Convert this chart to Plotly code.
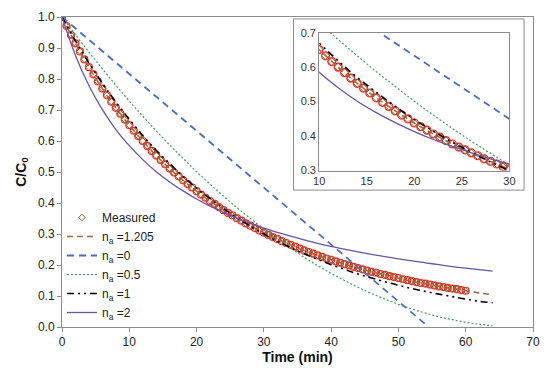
import plotly.graph_objects as go

# ---------------- data ----------------
meas_t = [0, 0.67, 1.33, 2, 2.67, 3.33, 4, 4.67, 5.33, 6, 6.67, 7.33, 8, 8.67, 9.33,
          10, 10.67, 11.33, 12, 12.67, 13.33, 14, 14.67, 15.33, 16, 16.67, 17.33,
          18, 18.67, 19.33, 20, 20.67, 21.33, 22, 22.67, 23.33, 24, 24.67, 25.33,
          26, 26.67, 27.33, 28, 28.67, 29.33, 30, 30.67, 31.33, 32, 32.67, 33.33,
          34, 34.67, 35.33, 36, 36.67, 37.33, 38, 38.67, 39.33, 40, 40.67, 41.33,
          42, 42.67, 43.33, 44, 44.67, 45.33, 46, 46.67, 47.33, 48, 48.67, 49.33,
          50, 50.67, 51.33, 52, 52.67, 53.33, 54, 54.67, 55.33, 56, 56.67, 57.33,
          58, 58.67, 59.33, 60]
meas_c = [1.000, 0.971, 0.942, 0.915, 0.889, 0.863, 0.838, 0.815, 0.792, 0.769, 0.748,
          0.727, 0.707, 0.688, 0.669, 0.651, 0.633, 0.616, 0.600, 0.584, 0.568, 0.553,
          0.539, 0.525, 0.511, 0.498, 0.486, 0.473, 0.461, 0.450, 0.438, 0.427, 0.417,
          0.406, 0.397, 0.387, 0.377, 0.368, 0.360, 0.351, 0.343, 0.334, 0.327, 0.319,
          0.311, 0.304, 0.297, 0.290, 0.284, 0.277, 0.271, 0.265, 0.259, 0.253, 0.247,
          0.242, 0.237, 0.231, 0.226, 0.221, 0.217, 0.212, 0.207, 0.203, 0.199, 0.194,
          0.190, 0.186, 0.182, 0.178, 0.175, 0.171, 0.168, 0.164, 0.161, 0.158, 0.154,
          0.151, 0.148, 0.145, 0.142, 0.140, 0.137, 0.134, 0.131, 0.129, 0.126, 0.124,
          0.122, 0.119, 0.117]

model_t = [0, 2, 4, 6, 8, 10, 12, 14, 16, 18, 20, 22, 24, 26, 28, 30, 32, 34, 36, 38,
           40, 42, 44, 46, 48, 50, 52, 54, 56, 58, 60, 62, 64]
n1205_c = [1.000, 0.915, 0.838, 0.769, 0.707, 0.651, 0.600, 0.553, 0.511, 0.473, 0.438,
           0.406, 0.377, 0.351, 0.327, 0.304, 0.284, 0.265, 0.247, 0.231, 0.217, 0.203,
           0.190, 0.178, 0.168, 0.158, 0.148, 0.140, 0.131, 0.124, 0.117, 0.110, 0.104]
n05_c = [1.000, 0.943, 0.887, 0.833, 0.780, 0.729, 0.680, 0.633, 0.587, 0.544, 0.501,
         0.461, 0.422, 0.385, 0.350, 0.316, 0.284, 0.254, 0.225, 0.198, 0.173, 0.150,
         0.128, 0.108, 0.090, 0.073, 0.058, 0.045, 0.033, 0.024, 0.015, 0.009, 0.004]
n1_c = [1.000, 0.923, 0.852, 0.786, 0.726, 0.670, 0.618, 0.570, 0.527, 0.486, 0.448,
        0.414, 0.382, 0.353, 0.325, 0.300, 0.277, 0.256, 0.236, 0.218, 0.201, 0.186,
        0.171, 0.158, 0.146, 0.135, 0.124, 0.115, 0.106, 0.098, 0.090, 0.083, 0.078]
n2_c = [1.000, 0.876, 0.779, 0.701, 0.637, 0.585, 0.540, 0.501, 0.468, 0.439, 0.413,
        0.390, 0.370, 0.351, 0.334, 0.319, 0.305, 0.293, 0.281, 0.270, 0.260, 0.251,
        0.242, 0.234, 0.227, 0.220, 0.213, 0.207, 0.201, 0.195, 0.190, 0.185, 0.180]
n0_t = [0, 54.5]
n0_c = [1.0, 0.0]

series_names = ["Measured", "n<sub>a</sub> =1.205", "n<sub>a</sub> =0",
                "n<sub>a</sub> =0.5", "n<sub>a</sub> =1", "n<sub>a</sub> =2"]

main_x_ticks = [0, 10, 20, 30, 40, 50, 60, 70]
inset_x_ticks = [10, 15, 20, 25, 30]

# ---------------- styles ----------------
C_DIAM = "#9A5A26"
C_CIRC = "#EE2A2A"
C_1205 = "#A8643A"
C_N0 = "#4A6DC0"
C_N05 = "#3E9E58"
C_N1 = "#000000"
C_N2 = "#6A52A8"
FONT = "Liberation Sans, Arial, sans-serif"

fig = go.Figure()


def add_all(xa, ya, legend, csize, dsize):
    fig.add_trace(go.Scatter(x=meas_t, y=meas_c, mode="markers", showlegend=False,
                             marker=dict(symbol="circle-open", size=csize, color=C_CIRC,
                                         line=dict(width=1.2, color=C_CIRC)),
                             xaxis=xa, yaxis=ya, hoverinfo="skip"))
    fig.add_trace(go.Scatter(x=meas_t, y=meas_c, mode="markers", name=series_names[0],
                             showlegend=legend,
                             marker=dict(symbol="diamond-open", size=dsize, color=C_DIAM,
                                         line=dict(width=1.0, color=C_DIAM)),
                             xaxis=xa, yaxis=ya))
    fig.add_trace(go.Scatter(x=model_t, y=n1205_c, mode="lines", name=series_names[1],
                             showlegend=legend, line=dict(color=C_1205, width=1.6, dash="6px,4px",
                                                          shape="spline"),
                             xaxis=xa, yaxis=ya))
    fig.add_trace(go.Scatter(x=n0_t, y=n0_c, mode="lines", name=series_names[2],
                             showlegend=legend, line=dict(color=C_N0, width=1.8, dash="7px,5px"),
                             xaxis=xa, yaxis=ya))
    fig.add_trace(go.Scatter(x=model_t, y=n05_c, mode="lines", name=series_names[3],
                             showlegend=legend, line=dict(color=C_N05, width=1.2, dash="2px,2px",
                                                          shape="spline"),
                             xaxis=xa, yaxis=ya))
    fig.add_trace(go.Scatter(x=model_t, y=n1_c, mode="lines", name=series_names[4],
                             showlegend=legend,
                             line=dict(color=C_N1, width=1.6, dash="7px,4px,2px,4px,2px,4px",
                                       shape="spline"),
                             xaxis=xa, yaxis=ya))
    fig.add_trace(go.Scatter(x=model_t, y=n2_c, mode="lines", name=series_names[5],
                             showlegend=legend, line=dict(color=C_N2, width=1.3, shape="spline"),
                             xaxis=xa, yaxis=ya))


add_all("x", "y", True, 7, 5)
add_all("x2", "y2", False, 8, 6)

axis_common = dict(showgrid=False, zeroline=False, showline=True, linecolor="#8C8C8C",
                   linewidth=1, mirror=True, ticks="outside", ticklen=4, tickcolor="#8C8C8C",
                   tickfont=dict(family=FONT, size=12, color="#222222"))
inset_axis = {**axis_common, "tickfont": dict(family=FONT, size=11, color="#333333"),
              "ticks": ""}

fig.update_layout(
    width=550, height=372,
    margin=dict(l=62, r=10, t=11, b=44),
    paper_bgcolor="white", plot_bgcolor="white",
    font=dict(family=FONT, size=12, color="#222222"),
    xaxis=dict(domain=[0, 1], range=[0, 70], tickvals=main_x_ticks,
               title=dict(text="<b>Time (min)</b>", font=dict(size=14, family=FONT, color="#111111"),
                          standoff=3),
               **axis_common),
    yaxis=dict(domain=[0, 1], range=[0, 1.0], dtick=0.1, tickformat=".1f",
               title=dict(text="<b>C/C<sub>0</sub></b>", font=dict(size=14, family=FONT, color="#111111"),
                          standoff=8),
               **axis_common),
    xaxis2=dict(domain=[0.546, 0.950], range=[10, 30], tickvals=inset_x_ticks, anchor="y2",
                **inset_axis),
    yaxis2=dict(domain=[0.5047, 0.9495], range=[0.3, 0.7], dtick=0.1, tickformat=".1f",
                anchor="x2", **inset_axis),
    legend=dict(x=0.0, y=0.40, xanchor="left", yanchor="top", bgcolor="rgba(0,0,0,0)",
                font=dict(family=FONT, size=12, color="#222222"), tracegroupgap=0),
    showlegend=True,
    hovermode=False,
    shapes=[dict(type="rect", xref="paper", yref="paper", x0=0.4916, x1=0.981,
                 y0=0.4416, y1=0.9937, line=dict(color="#8C8C8C", width=1),
                 fillcolor="rgba(0,0,0,0)", layer="below")],
)

fig.write_html("out.html", config={"displayModeBar": False},
               post_script="document.body.style.margin='0';")
